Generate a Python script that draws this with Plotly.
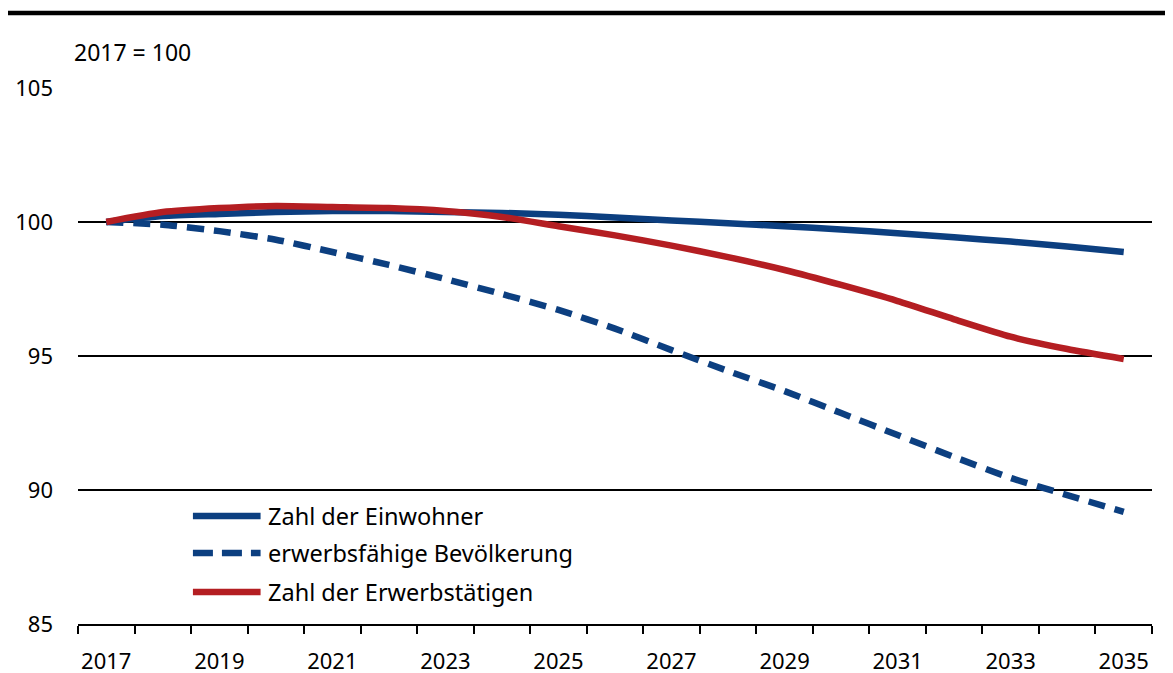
import plotly.graph_objects as go

years = list(range(2017, 2036))
einwohner = [100, 100.22, 100.30, 100.37, 100.41, 100.41, 100.37, 100.34, 100.27, 100.17,
             100.06, 99.95, 99.84, 99.72, 99.58, 99.43, 99.27, 99.09, 98.88]
erwerbsfaehige = [100, 99.90, 99.66, 99.34, 98.88, 98.40, 97.87, 97.31, 96.72, 96.02,
                  95.22, 94.44, 93.69, 92.87, 92.05, 91.23, 90.45, 89.81, 89.18]
erwerbstaetige = [100, 100.37, 100.52, 100.60, 100.56, 100.52, 100.41, 100.19, 99.84, 99.50,
                  99.12, 98.69, 98.21, 97.65, 97.05, 96.37, 95.72, 95.26, 94.89]

names = ["Zahl der Einwohner", "erwerbsfähige Bevölkerung", "Zahl der Erwerbstätigen"]
BLUE = "#0c3f80"
RED = "#b41e22"
FONT = "Noto Sans"
FS = 22
TXT = "#000000"

fig = go.Figure()
fig.add_trace(go.Scatter(x=years, y=erwerbsfaehige, mode="lines", name=names[1],
                         line=dict(color=BLUE, width=6.5, dash="17px,10px",
                                   shape="spline", smoothing=0.6)))
fig.add_trace(go.Scatter(x=years, y=einwohner, mode="lines", name=names[0],
                         line=dict(color=BLUE, width=6.5, shape="spline", smoothing=0.6)))
fig.add_trace(go.Scatter(x=years, y=erwerbstaetige, mode="lines", name=names[2],
                         line=dict(color=RED, width=6.5, shape="spline", smoothing=0.6)))

# invisible trace to carry the label axis
fig.add_trace(go.Scatter(x=years, y=einwohner, xaxis="x2", mode="lines",
                         line=dict(width=0), showlegend=False, hoverinfo="skip"))

boundaries = [y - 0.5 for y in years] + [years[-1] + 0.5]
fig.update_layout(
    width=1165, height=665,
    margin=dict(l=70, r=21, t=80, b=49),
    paper_bgcolor="white", plot_bgcolor="white",
    showlegend=False,
    font=dict(family=FONT, size=FS, color=TXT),
    xaxis=dict(range=[2016.5, 2035.5], tickvals=boundaries, showticklabels=False,
               ticks="outside", ticklen=8, tickwidth=2, tickcolor="black", automargin=False,
               showgrid=False, zeroline=False, showline=True, linecolor="black", linewidth=2),
    xaxis2=dict(range=[2016.5, 2035.5], overlaying="x", side="bottom", automargin=False,
                tickvals=years[::2], ticktext=[str(y) for y in years[::2]],
                ticks="", showgrid=False, zeroline=False, showline=False,
                ticklabelstandoff=22,
                tickfont=dict(family=FONT, size=FS, color=TXT)),
    yaxis=dict(range=[85, 105], tickvals=[85, 90, 95, 100, 105], ticks="",
               showgrid=True, gridcolor="black", gridwidth=1.5, zeroline=False,
               showline=False, ticklabelstandoff=24, automargin=False,
               tickfont=dict(family=FONT, size=FS, color=TXT)),
)

# top rule
fig.add_shape(type="line", xref="paper", yref="paper", x0=-0.066, x1=1.02, y0=1.14, y1=1.14,
              line=dict(color="black", width=4.5))
fig.add_annotation(text="2017 = 100", xref="paper", yref="paper", x=-0.006, y=1.067,
                   xanchor="left", yanchor="middle", showarrow=False,
                   font=dict(family=FONT, size=23, color=TXT))

# custom legend
leg = [(names[0], BLUE, "solid", 0.2015), (names[1], BLUE, "20px,9px", 0.1325),
       (names[2], RED, "solid", 0.0597)]
for txt, col, dash, yy in leg:
    fig.add_shape(type="line", xref="paper", yref="paper", x0=0.107, x1=0.170, y0=yy, y1=yy,
                  line=dict(color=col, width=6.5, dash=dash))
    fig.add_annotation(text=txt, xref="paper", yref="paper", x=0.1755, y=yy,
                       xanchor="left", yanchor="middle", showarrow=False,
                       font=dict(family=FONT, size=23.5, color=TXT))

fig.write_html("out.html")
